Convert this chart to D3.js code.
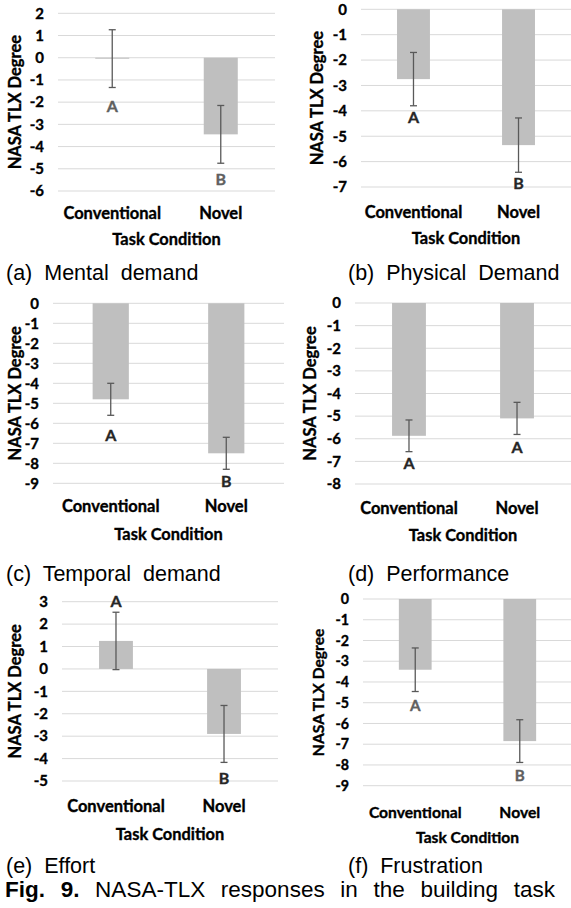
<!DOCTYPE html>
<html>
<head>
<meta charset="utf-8">
<script src="https://cdn.jsdelivr.net/npm/d3@7"></script>
<style>
  body { margin: 0; background: #fff; }
  .cap { font-family: "Liberation Sans", Arial, sans-serif; white-space: pre; }
</style>
</head>
<body>
<svg id="fig" width="571" height="908"></svg>
<script>
const categories = ["Conventional", "Novel"];
const captions = ["(a)  Mental  demand", "(b)  Physical  Demand", "(c)  Temporal  demand",
                  "(d)  Performance", "(e)  Effort", "(f)  Frustration"];
const yDomains = [[-6, 2], [-7, 0], [-9, 0], [-8, 0], [-5, 3], [-9, 0]];
const means = [[-0.04, -3.45], [-2.75, -5.35], [-4.8, -7.5], [-5.87, -5.1], [1.25, -2.9], [-3.41, -6.85]];
const errs = [[1.3, 1.3], [1.05, 1.07], [0.8, 0.8], [0.7, 0.71], [1.28, 1.27], [1.05, 1.03]];
const groupLetters = [["A", "B"], ["A", "B"], ["A", "B"], ["A", "A"], ["A", "B"], ["A", "B"]];
const letterY = [[-2.2, -5.5], [-4.25, -6.85], [-6.6, -8.9], [-7.1, -6.4], [3.0, -4.9], [-5.15, -8.5]];
const yTitle = "NASA TLX Degree";
const xTitle = "Task Condition";
const figLabel = "Fig. 9.";
const figText = "NASA-TLX responses in the building task";

// where each little chart sits on the page
const frames = [
  {x0: 58,  x1: 275, y0: 13.3,  y1: 191,   titleX: 15,  catY: 213, axisY: 239, capX: 6,   capY: 280, fs: 1,    letterFill: "#606060"},
  {x0: 361, x1: 571, y0: 9.3,   y1: 187,   titleX: 317, catY: 212, axisY: 238, capX: 348, capY: 280, fs: 1,    letterFill: "#262626"},
  {x0: 53,  x1: 284, y0: 303.3, y1: 483.3, titleX: 15,  catY: 506, axisY: 534, capX: 6,   capY: 581, fs: 1,    letterFill: "#262626"},
  {x0: 355, x1: 571, y0: 303,   y1: 484,   titleX: 310, catY: 508, axisY: 535, capX: 348, capY: 581, fs: 1,    letterFill: "#262626"},
  {x0: 62,  x1: 278, y0: 601.7, y1: 781,   titleX: 15,  catY: 806, axisY: 834, capX: 6,   capY: 873, fs: 1,    letterFill: "#262626"},
  {x0: 363, x1: 572, y0: 599,   y1: 785.7, titleX: 318, catY: 813, axisY: 838, capX: 348, capY: 873, fs: 0.95, letterFill: "#606060"}
];

const svg = d3.select("#fig");
const chartFont = "Lato, 'Open Sans', sans-serif";

// bold chart text, slightly thickened to look like the blurry original
function boldText(sel, size) {
  return sel
    .attr("font-family", chartFont)
    .attr("font-weight", "bold")
    .attr("font-size", size)
    .attr("stroke", "currentColor")
    .attr("stroke-width", 0.35);
}

frames.forEach((f, i) => {
  const g = svg.append("g");

  const x = d3.scaleBand()
    .domain(categories)
    .range([f.x0, f.x1])
    .paddingInner(0.6865)
    .paddingOuter(0.343);

  const y = d3.scaleLinear()
    .domain(yDomains[i])
    .range([f.y1, f.y0]);

  const ticks = d3.range(yDomains[i][0], yDomains[i][1] + 1);

  // gridlines
  g.selectAll("line.grid")
    .data(ticks)
    .join("line")
      .attr("class", "grid")
      .attr("x1", f.x0)
      .attr("x2", f.x1)
      .attr("y1", d => y(d))
      .attr("y2", d => y(d))
      .attr("stroke", "#d9d9d9")
      .attr("stroke-width", 1);

  // y tick labels
  g.append("g")
    .attr("transform", `translate(${f.x0},0)`)
    .call(d3.axisLeft(y).tickValues(ticks).tickSize(0).tickPadding(14).tickFormat(d => String(d)))
    .call(a => a.select(".domain").remove())
    .attr("font-family", null)
    .attr("font-size", null)
    .selectAll("text")
      .attr("fill", "#000")
      .style("color", "#000")
      .call(boldText, 15 * f.fs);

  // bars
  g.selectAll("rect.bar")
    .data(categories)
    .join("rect")
      .attr("class", "bar")
      .attr("x", d => x(d))
      .attr("width", x.bandwidth())
      .attr("y", (d, j) => y(Math.max(0, means[i][j])))
      .attr("height", (d, j) => Math.max(1, Math.abs(y(means[i][j]) - y(0))))
      .attr("fill", "#bfbfbf");

  // error bars
  const cx = d => x(d) + x.bandwidth() / 2;
  const eb = g.selectAll("g.err")
    .data(categories)
    .join("g")
      .attr("class", "err")
      .attr("stroke", "#595959")
      .attr("stroke-width", 1.3);
  eb.append("line")
    .attr("x1", cx).attr("x2", cx)
    .attr("y1", (d, j) => y(means[i][j] + errs[i][j]))
    .attr("y2", (d, j) => y(means[i][j] - errs[i][j]));
  [1, -1].forEach(s => {
    eb.append("line")
      .attr("x1", d => cx(d) - 3.5).attr("x2", d => cx(d) + 3.5)
      .attr("y1", (d, j) => y(means[i][j] + s * errs[i][j]))
      .attr("y2", (d, j) => y(means[i][j] + s * errs[i][j]));
  });

  // group letters
  g.selectAll("text.letter")
    .data(categories)
    .join("text")
      .attr("class", "letter")
      .attr("x", cx)
      .attr("y", (d, j) => y(letterY[i][j]))
      .attr("dy", "0.35em")
      .attr("text-anchor", "middle")
      .style("color", f.letterFill)
      .attr("fill", f.letterFill)
      .call(boldText, 16 * f.fs)
      .text((d, j) => groupLetters[i][j]);

  // category labels
  g.selectAll("text.cat")
    .data(categories)
    .join("text")
      .attr("class", "cat")
      .attr("x", cx)
      .attr("y", f.catY)
      .attr("dy", "0.35em")
      .attr("text-anchor", "middle")
      .style("color", "#000")
      .call(boldText, 16.5 * f.fs)
      .text(d => d);

  // axis titles
  g.append("text")
    .attr("x", (f.x0 + f.x1) / 2)
    .attr("y", f.axisY)
    .attr("dy", "0.35em")
    .attr("text-anchor", "middle")
    .style("color", "#000")
    .call(boldText, 16.4 * f.fs)
    .text(xTitle);

  g.append("text")
    .attr("transform", `translate(${f.titleX},${(f.y0 + f.y1) / 2}) rotate(-90)`)
    .attr("dy", "0.35em")
    .attr("text-anchor", "middle")
    .style("color", "#000")
    .call(boldText, 16.5 * f.fs)
    .text(yTitle);

  // sub caption
  svg.append("text")
    .attr("class", "cap")
    .attr("x", f.capX)
    .attr("y", f.capY)
    .attr("font-size", 21.5)
    .attr("fill", "#000")
    .text(captions[i]);
});

// figure caption, justified across the column
const fig = svg.append("text")
  .attr("class", "cap")
  .attr("x", 5)
  .attr("y", 897)
  .attr("font-size", 22.5);
fig.append("tspan").attr("font-weight", "bold").text(figLabel);
fig.append("tspan").text(" " + figText);
const gaps = (figLabel + " " + figText).split(" ").length - 1;
const spare = 550 - fig.node().getComputedTextLength();
fig.attr("word-spacing", Math.max(0, spare / gaps));
</script>
</body>
</html>
